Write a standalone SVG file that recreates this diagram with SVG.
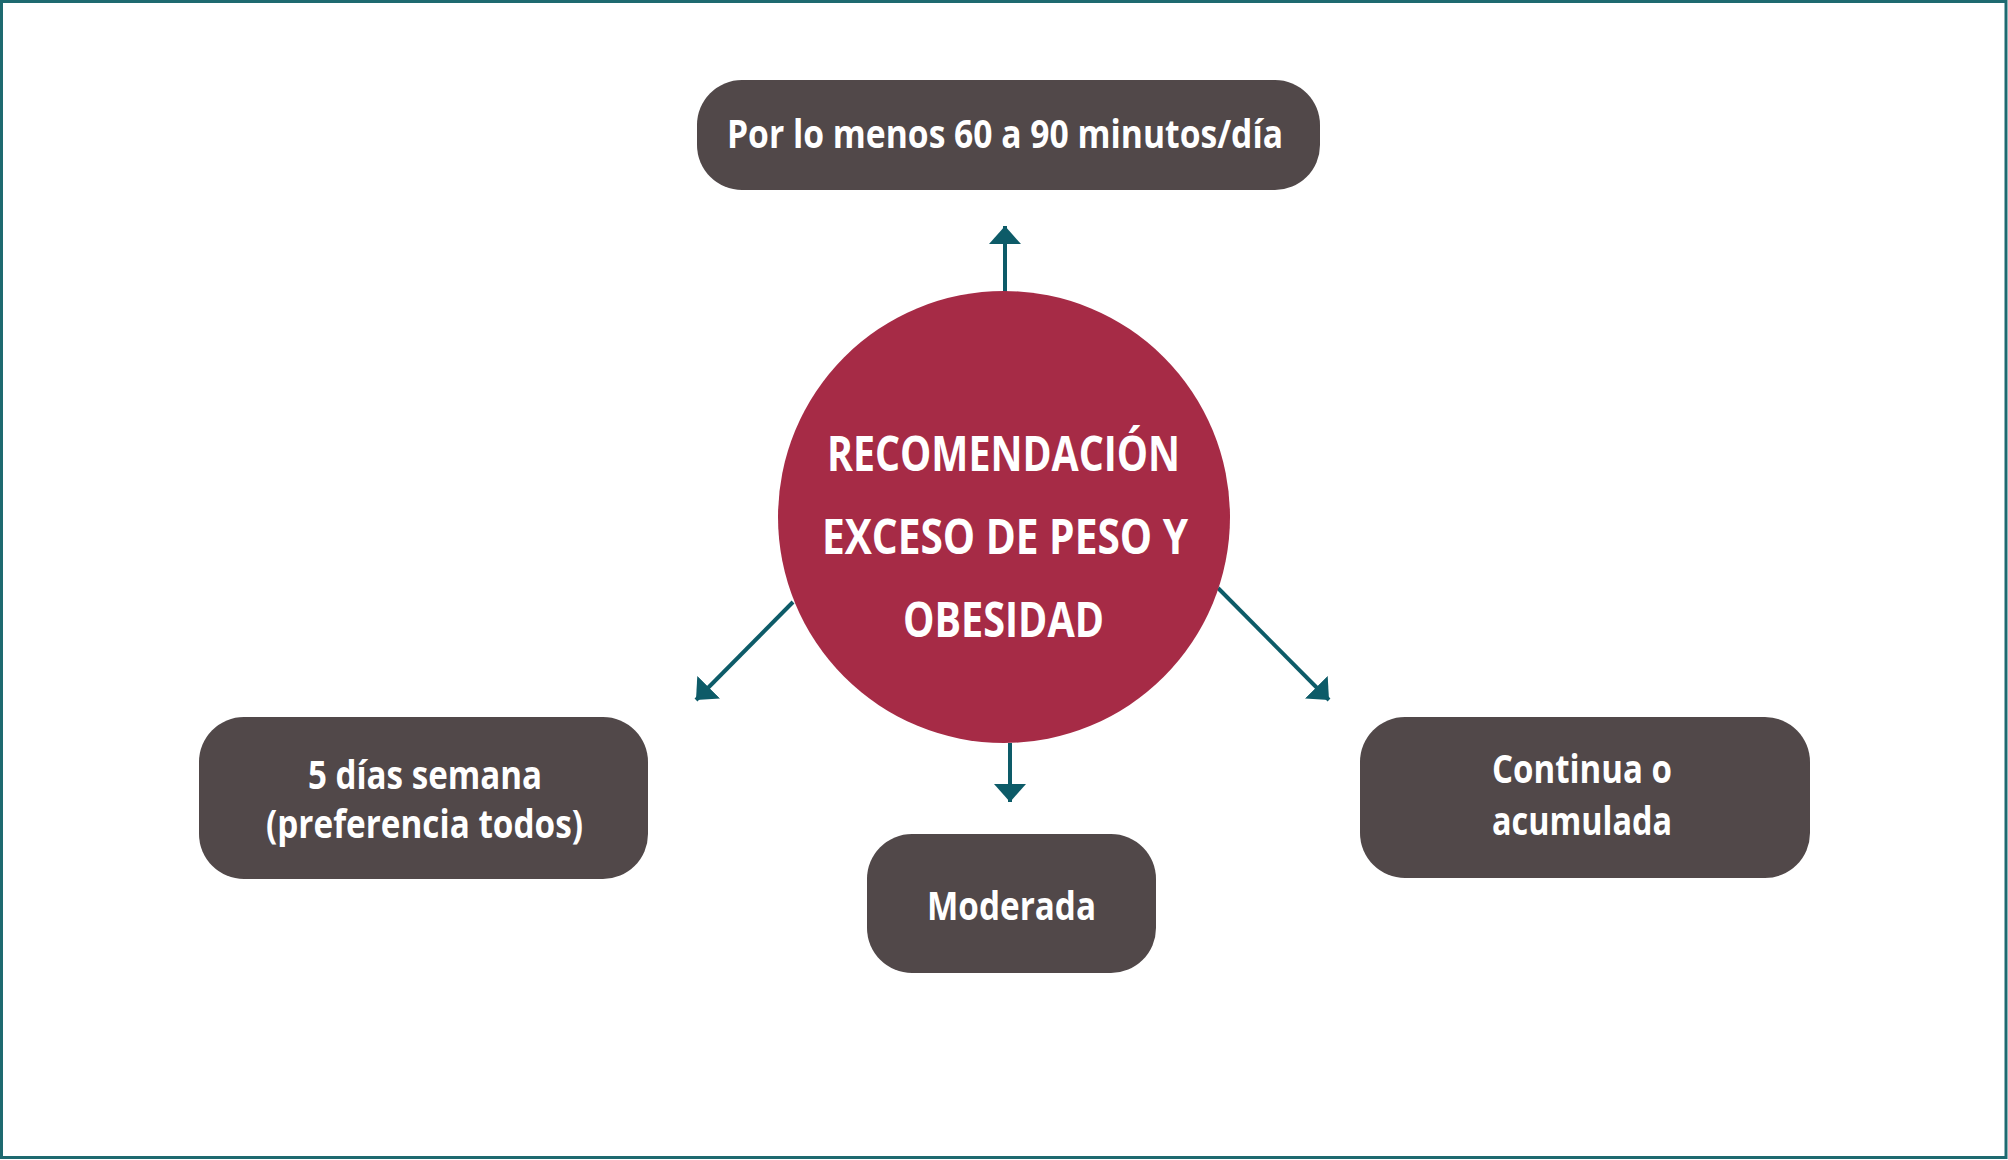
<svg xmlns="http://www.w3.org/2000/svg" width="2008" height="1160" viewBox="0 0 2008 1160">
  <style>
    .box { fill: #514849; }
    .hub { fill: #a62b46; }
    .t { font-family: "Open Sans", "Noto Sans", "Liberation Sans", sans-serif; font-weight: 700; fill: #ffffff; text-anchor: middle; }
    .bt { font-size: 39px; }
    .ht { font-size: 48px; }
    .conn { stroke: #0d5b68; stroke-width: 4; fill: none; marker-end: url(#arrow); }
  </style>
  <defs>
    <marker id="arrow" viewBox="0 0 18 32" refX="18" refY="16" markerWidth="18" markerHeight="32" markerUnits="userSpaceOnUse" orient="auto">
      <path d="M0,0 L18,16 L0,32 Z" fill="#0d5b68"/>
    </marker>
  </defs>
  <rect x="0" y="0" width="2008" height="1160" fill="#ffffff"/>
  <rect x="1.5" y="1.5" width="2004.5" height="1156" fill="none" stroke="#1e6a70" stroke-width="3"/>

  <g id="connectors">
    <line class="conn" x1="1005" y1="292" x2="1005" y2="226"/>
    <line class="conn" x1="1010" y1="743" x2="1010" y2="802"/>
    <line class="conn" x1="793" y1="602" x2="696" y2="700"/>
    <line class="conn" x1="1218" y1="588" x2="1329" y2="700"/>
  </g>

  <g id="hub">
    <circle class="hub" cx="1004" cy="517" r="226"/>
    <text class="t ht" x="1003.5" y="471" textLength="353" lengthAdjust="spacingAndGlyphs">RECOMENDACIÓN</text>
    <text class="t ht" x="1005" y="554" textLength="366" lengthAdjust="spacingAndGlyphs">EXCESO DE PESO Y</text>
    <text class="t ht" x="1003.5" y="637" textLength="201" lengthAdjust="spacingAndGlyphs">OBESIDAD</text>
  </g>

  <g id="node-top">
    <rect class="box" x="697" y="80" width="623" height="110" rx="45" ry="45"/>
    <text class="t bt" x="1005" y="148" textLength="556" lengthAdjust="spacingAndGlyphs">Por lo menos 60 a 90 minutos/día</text>
  </g>

  <g id="node-left">
    <rect class="box" x="199" y="717" width="449" height="162" rx="45" ry="45"/>
    <text class="t bt" x="425" y="789" textLength="234" lengthAdjust="spacingAndGlyphs">5 días semana</text>
    <text class="t bt" x="424.5" y="838" textLength="317" lengthAdjust="spacingAndGlyphs">(preferencia todos)</text>
  </g>

  <g id="node-bottom">
    <rect class="box" x="867" y="834" width="289" height="139" rx="45" ry="45"/>
    <text class="t bt" x="1011.5" y="920" textLength="169" lengthAdjust="spacingAndGlyphs">Moderada</text>
  </g>

  <g id="node-right">
    <rect class="box" x="1360" y="717" width="450" height="161" rx="45" ry="45"/>
    <text class="t bt" x="1582" y="783" textLength="180" lengthAdjust="spacingAndGlyphs">Continua o</text>
    <text class="t bt" x="1582" y="835" textLength="180" lengthAdjust="spacingAndGlyphs">acumulada</text>
  </g>
</svg>
